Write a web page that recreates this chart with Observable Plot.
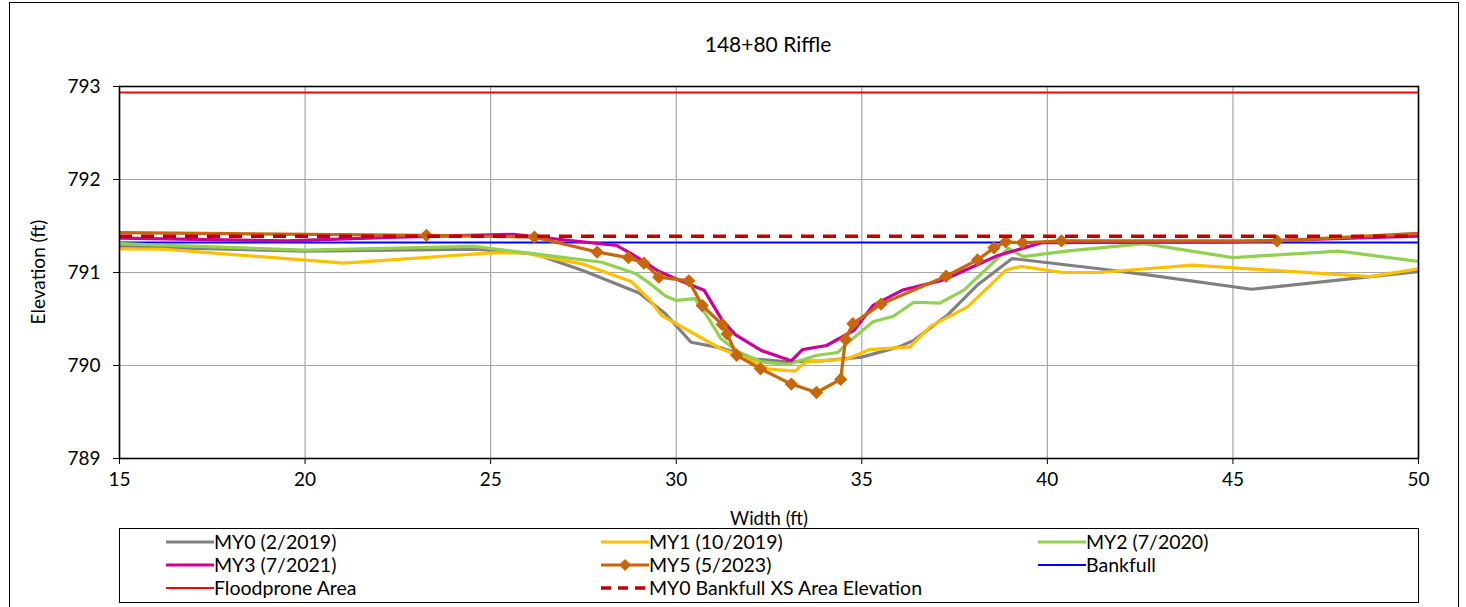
<!DOCTYPE html>
<html>
<head>
<meta charset="utf-8">
<script src="https://cdn.jsdelivr.net/npm/d3@7"></script>
<script src="https://cdn.jsdelivr.net/npm/@observablehq/plot@0.6"></script>
<style>
  body { margin:0; background:#fff; font-family: Lato, "Noto Sans", sans-serif; }
  #wrap { position:relative; width:1466px; height:607px; overflow:hidden; }
  #border { position:absolute; left:9px; top:2px; width:1450px; height:612px; border:1.5px solid #000; box-sizing:border-box; }
  .txt { position:absolute; white-space:nowrap; color:#000; line-height:1; }
  #chart { position:absolute; left:0; top:0; }
  #legend { position:absolute; left:119px; top:528px; width:1300px; height:75px; border:1.5px solid #000; box-sizing:border-box; background:#fff; }
</style>
</head>
<body>
<div id="wrap">
  <div id="border"></div>
  <div id="chart"></div>
  <div class="txt" id="title" style="left:768px; top:33px; font-size:21px; transform:translateX(-50%);">148+80 Riffle</div>
  <div class="txt" id="xlab" style="left:769px; top:509px; font-size:18.5px; transform:translateX(-50%);">Width (ft)</div>
  <div class="txt" id="ylab" style="left:37px; top:272px; font-size:19px; transform:translate(-50%,-50%) rotate(-90deg);">Elevation (ft)</div>
  <div id="legend"></div>
</div>
<script>
// ---- data ----
const xTicks = [15, 20, 25, 30, 35, 40, 45, 50];
const yTicks = [789, 790, 791, 792, 793];

const seriesNames = ["MY0 (2/2019)", "MY1 (10/2019)", "MY2 (7/2020)", "MY3 (7/2021)", "MY5 (5/2023)", "Bankfull", "Floodprone Area", "MY0 Bankfull XS Area Elevation"];
const seriesColors = ["#808080", "#FFC000", "#92D050", "#CC0099", "#C8660A", "#0000FF", "#FF0000", "#C00000"];

const my0 = [[15,791.28],[20,791.23],[24.6,791.25],[26.2,791.20],[27.5,791.02],[29.0,790.78],[29.7,790.56],[30.4,790.25],[31.2,790.19],[32.1,790.07],[33.0,790.04],[33.9,790.05],[35.0,790.09],[36.0,790.20],[36.4,790.27],[37.3,790.54],[38.1,790.86],[39.05,791.15],[41.4,791.04],[42.8,790.97],[45.5,790.82],[50,791.01]];
const my1 = [[15,791.255],[16.2,791.25],[21.05,791.10],[25.0,791.21],[25.9,791.21],[27.5,791.09],[28.8,790.90],[29.3,790.70],[29.6,790.54],[31.2,790.18],[32.1,790.04],[32.5,789.96],[33.2,789.94],[33.5,790.04],[34.6,790.07],[35.2,790.17],[36.3,790.20],[36.85,790.42],[37.85,790.63],[38.9,791.03],[39.3,791.065],[40.4,791.00],[41.4,791.00],[43.9,791.08],[48.7,790.955],[50,791.04]];
const my2 = [[15,791.31],[20,791.24],[24.55,791.28],[26.2,791.20],[28.0,791.11],[28.9,790.99],[29.3,790.88],[29.7,790.75],[30.0,790.70],[30.5,790.72],[30.85,790.52],[31.2,790.29],[31.65,790.15],[32.3,790.04],[33.0,790.01],[33.8,790.11],[34.35,790.14],[34.7,790.27],[35.3,790.47],[35.85,790.53],[36.4,790.68],[37.1,790.67],[37.75,790.81],[38.95,791.26],[39.35,791.17],[40.5,791.23],[42.6,791.31],[45.0,791.16],[47.85,791.23],[50,791.12]];
const my3 = [[15,791.37],[19.5,791.34],[22.5,791.38],[25.6,791.41],[28.4,791.29],[28.8,791.20],[29.5,791.02],[30.0,790.93],[30.75,790.81],[31.25,790.48],[31.6,790.33],[32.3,790.16],[33.1,790.05],[33.4,790.17],[34.05,790.215],[34.8,790.38],[35.3,790.645],[36.1,790.81],[37.2,790.92],[38.65,791.18],[39.85,791.32],[45,791.33],[50,791.39]];
const my5 = [[14.4,791.43],[23.27,791.40],[26.18,791.38],[27.87,791.22],[28.71,791.16],[29.13,791.10],[29.53,790.95],[30.34,790.91],[30.70,790.645],[31.24,790.44],[31.37,790.34],[31.63,790.11],[32.27,789.965],[33.10,789.80],[33.78,789.71],[34.43,789.85],[34.56,790.28],[34.76,790.45],[35.52,790.66],[37.27,790.96],[38.12,791.135],[38.56,791.265],[38.88,791.33],[39.33,791.32],[40.38,791.34],[46.19,791.34],[50.4,791.43]];
const bankfull = 791.323;
const floodprone = 792.935;
const xsElevation = 791.39;

// ---- chart ----
const series = [my0, my1, my2, my3, my5];
const lineMarks = series.map((s, i) => Plot.line(s, {x: d => d[0], y: d => d[1], stroke: seriesColors[i], strokeWidth: 3.2, clip: true}));

const chart = Plot.plot({
  width: 1466,
  height: 540,
  marginLeft: 119,
  marginRight: 48,
  marginTop: 86,
  marginBottom: 82,
  x: {domain: [15, 50]},
  y: {domain: [789, 793]},
  style: {fontFamily: "Lato, 'Noto Sans', sans-serif", fontSize: "19px", color: "#000", background: "transparent", overflow: "visible"},
  marks: [
    Plot.gridX(xTicks, {stroke: "#a6a6a6", strokeOpacity: 1, strokeWidth: 1.2}),
    Plot.gridY(yTicks, {stroke: "#a6a6a6", strokeOpacity: 1, strokeWidth: 1.2}),
    Plot.axisX(xTicks, {tickSize: 6, tickPadding: 8, label: null, tickFormat: d => d, fontSize: 19, stroke: "#000"}),
    Plot.axisY(yTicks, {tickSize: 6, tickPadding: 13, label: null, tickFormat: d => d, fontSize: 19, stroke: "#000"}),
    Plot.ruleY([floodprone], {stroke: "#FF0000", strokeWidth: 2}),
    Plot.ruleY([bankfull], {stroke: "#0000FF", strokeWidth: 2}),
    ...lineMarks,
    Plot.dot(my5, {x: d => d[0], y: d => d[1], symbol: "diamond2", r: 6, fill: seriesColors[4], stroke: "none", clip: true}),
    Plot.ruleY([xsElevation], {stroke: "#C00000", strokeWidth: 3.5, strokeDasharray: "13,9"}),
    Plot.frame({stroke: "#000", strokeWidth: 1.6})
  ]
});
document.getElementById("chart").appendChild(chart);

// ---- legend ----
const legend = document.getElementById("legend");
const colSwatchX = [46, 481, 918];   // relative to legend box
const rowY = [13, 36, 59];
seriesNames.forEach((name, i) => {
  const col = i % 3, row = Math.floor(i / 3);
  const sw = document.createElementNS("http://www.w3.org/2000/svg", "svg");
  sw.setAttribute("width", 50); sw.setAttribute("height", 16);
  sw.style.position = "absolute";
  sw.style.left = colSwatchX[col] + "px";
  sw.style.top = (rowY[row] - 8) + "px";
  let inner = "";
  if (i === 7) {
    inner = `<line x1="0" y1="8" x2="48" y2="8" stroke="${seriesColors[i]}" stroke-width="3.5" stroke-dasharray="10,7"/>`;
  } else {
    const w = (i >= 5) ? 2 : 3.2;
    inner = `<line x1="0" y1="8" x2="48" y2="8" stroke="${seriesColors[i]}" stroke-width="${w}"/>`;
    if (i === 4) inner += `<path d="M24,2 L30,8 L24,14 L18,8 Z" fill="${seriesColors[i]}"/>`;
  }
  sw.innerHTML = inner;
  legend.appendChild(sw);
  const t = document.createElement("div");
  t.className = "txt";
  t.textContent = name;
  t.style.fontSize = "19.5px";
  t.style.left = (colSwatchX[col] + 48) + "px";
  t.style.top = (rowY[row] - 10) + "px";
  legend.appendChild(t);
});
</script>
</body>
</html>
